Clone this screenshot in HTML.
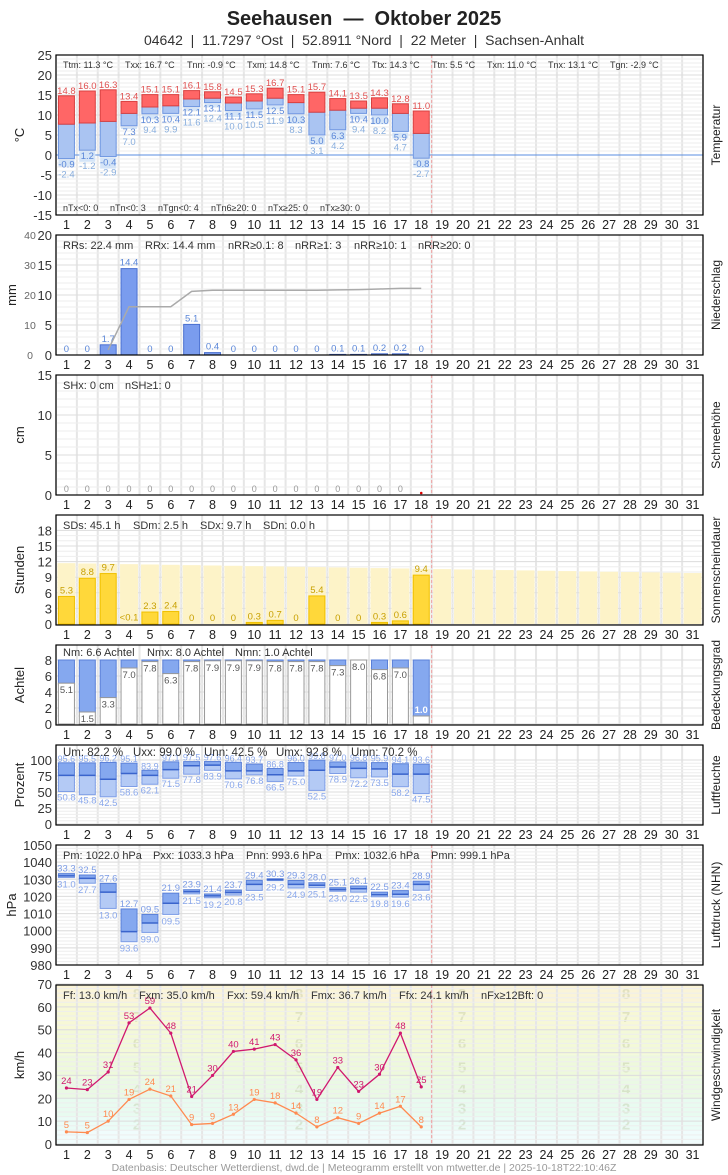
<!DOCTYPE html>
<html><head><meta charset="utf-8">
<style>
body{margin:0;background:#fff;width:728px;height:1175px;overflow:hidden}
svg{display:block;font-family:"Liberation Sans",sans-serif}
text{white-space:pre}
</style></head><body>
<svg id="s" width="728" height="1175" xmlns="http://www.w3.org/2000/svg"></svg>
<script>
const S=document.getElementById('s');let h='';
const L=56,R=703,W=(R-L)/31;
const X=i=>L+(i-0.5)*W;
function t(x,y,s,o){o=o||{};h+=`<text x="${x}" y="${y}" font-size="${o.fs||12}" fill="${o.c||'#222'}" text-anchor="${o.a||'start'}" ${o.fw?'font-weight="bold"':''} ${o.r?`transform="rotate(-90 ${x} ${y})"`:''}>${s}</text>`;}
function r(x,y,w,hh,f,st){if(hh<0){y+=hh;hh=-hh;}h+=`<rect x="${x}" y="${y}" width="${w}" height="${hh}" fill="${f}" ${st?`stroke="${st}" stroke-width="1"`:''}/>`;}
function ln(x1,y1,x2,y2,c,w,d){h+=`<line x1="${x1}" y1="${y1}" x2="${x2}" y2="${y2}" stroke="${c}" stroke-width="${w||1}" ${d?`stroke-dasharray="${d}"`:''}/>`;}
const N='\u00a0';
t(364,25,'Seehausen'+N+N+'—'+N+N+'Oktober 2025',{fs:20,fw:1,a:'middle'});
t(364,45,['04642','11.7297 °Ost','52.8911 °Nord','22 Meter','Sachsen-Anhalt'].join(N+N+'|'+N+N),{fs:14,a:'middle',c:'#333'});
function panel(top,bot,ticks,yf,ytitle,rtitle,bg){
  if(bg)bg();
  for(let i=0;i<=31;i++)ln(L+i*W,top,L+i*W,bot,'#e6e6e6',2);
  for(let v=ticks.min;v<=ticks.max;v+=ticks.minor)ln(L,yf(v),R,yf(v),'#eeeeee',1);
  for(let v=ticks.min;v<=ticks.max;v+=ticks.step){ln(L,yf(v),R,yf(v),'#dddddd',1);t(52,yf(v)+5,v,{fs:13,a:'end',c:'#333'});}
  for(let i=1;i<=31;i++)t(X(i),bot+14,i,{fs:12.5,a:'middle',c:'#222'});
  t(ytitle[1],(top+bot)/2,ytitle[0],{fs:13,a:'middle',r:1,c:'#222'});
  t(720,(top+bot)/2,rtitle,{fs:12,a:'middle',r:1,c:'#222'});
}
function frame(top,bot){ln(L+18*W,top,L+18*W,bot,'#f0a0a0',1,'3,2');h+=`<rect x="${L}" y="${top}" width="${R-L}" height="${bot-top}" fill="none" stroke="#000" stroke-width="1.2"/>`;}
function stats(y,arr,fs){arr.forEach(a=>t(a[0],y,a[1],{fs:fs||11,c:'#333'}));}
// TEMPERATURE
{const yf=v=>55+(25-v)*4;
panel(55,215,{min:-15,max:25,step:5,minor:1},yf,['°C',24],'Temperatur');
ln(L,yf(0),R,yf(0),'#5a8ee0',1);
const mx=[14.8,16.0,16.3,13.4,15.1,15.1,16.1,15.8,14.5,15.3,16.7,15.1,15.7,14.1,13.5,14.3,12.8,11.0];
const me=[7.7,8.0,8.4,10.4,12.0,12.3,14.0,14.2,13.0,13.5,14.2,13.1,10.7,11.2,11.7,11.7,10.4,5.4];
const mn=[-0.9,1.2,-0.4,7.3,10.3,10.4,12.1,13.1,11.1,11.5,12.5,10.3,5.0,6.3,10.4,10.0,5.9,-0.8];
const gn=[-2.4,-1.2,-2.9,7.0,9.4,9.9,11.6,12.4,10.0,10.5,11.9,8.3,3.1,4.2,9.4,8.2,4.7,-2.7];
for(let i=0;i<18;i++){const x=X(i+1)-8;
 r(x,yf(mn[i])+1,16,yf(gn[i])-yf(mn[i])+1,'#d4e4f7');
 r(x,yf(me[i]),16,yf(mn[i])-yf(me[i]),'#aac4f2','#6d95e0');
 r(x,yf(mx[i]),16,yf(me[i])-yf(mx[i]),'#ff6666','#d84040');
 t(X(i+1),yf(mx[i])-2,mx[i].toFixed(1),{fs:9.5,a:'middle',c:'#e05050'});
 t(X(i+1),yf(mn[i])+9,mn[i].toFixed(1),{fs:9.5,a:'middle',c:'#5a86d8'});
 t(X(i+1),yf(mn[i])+19,gn[i].toFixed(1),{fs:9.5,a:'middle',c:'#88aede'});}
frame(55,215);
stats(68,[[63,'Ttm: 11.3 °C'],[125,'Txx: 16.7 °C'],[187,'Tnn: -0.9 °C'],[247,'Txm: 14.8 °C'],[312,'Tnm: 7.6 °C'],[372,'Ttx: 14.3 °C'],[432,'Ttn: 5.5 °C'],[487,'Txn: 11.0 °C'],[548,'Tnx: 13.1 °C'],[610,'Tgn: -2.9 °C']],9);
stats(211,[[63,'nTx<0: 0'],[110,'nTn<0: 3'],[158,'nTgn<0: 4'],[211,'nTn6≥20: 0'],[268,'nTx≥25: 0'],[320,'nTx≥30: 0']],9);}
// PRECIP
{const yf=v=>355-v*6;
panel(235,355,{min:0,max:20,step:5,minor:1},yf,['mm',16],'Niederschlag');
[0,10,20,30,40].forEach((v,k)=>t(30,355-k*30+4,v,{fs:10.5,a:'middle',c:'#666'}));
const p=[0,0,1.7,14.4,0,0,5.1,0.4,0,0,0,0,0,0.1,0.1,0.2,0.2,0];
let c=0,pts=[];
for(let i=0;i<18;i++){const x=X(i+1);c+=p[i];
 if(p[i]>0)r(x-8,yf(p[i]),16,p[i]*6,'#7a9cee','#4a70d0');
 t(x,yf(p[i])-3,p[i],{fs:9.5,a:'middle',c:'#5a86d8'});
 if(i>=2)pts.push(x+','+(355-c*3));}
h+=`<polyline points="${pts.join(' ')}" fill="none" stroke="#aaa" stroke-width="1.5"/>`;
frame(235,355);
stats(249,[[63,'RRs: 22.4 mm'],[145,'RRx: 14.4 mm'],[228,'nRR≥0.1: 8'],[295,'nRR≥1: 3'],[354,'nRR≥10: 1'],[418,'nRR≥20: 0']]);}
// SNOW
{const yf=v=>495-v*8;
panel(375,495,{min:0,max:15,step:5,minor:1},yf,['cm',24],'Schneehöhe');
for(let i=1;i<=17;i++)t(X(i),492,0,{fs:9,a:'middle',c:'#999'});
h+=`<circle cx="${X(18)}" cy="493" r="1.3" fill="#d00"/>`;
frame(375,495);
stats(389,[[63,'SHx: 0 cm'],[125,'nSH≥1: 0']]);}
// SUN
{const yf=v=>624-v*5.2;
panel(515,625,{min:0,max:18,step:3,minor:1},yf,['Stunden',24],'Sonnenscheindauer');
for(let i=1;i<=31;i++){const m=11.7-(i-1)*1.9/30;r(X(i)-9,yf(m),18,m*5.2,'#fdf3c8');}
const s=[5.3,8.8,9.7,0.05,2.3,2.4,0,0,0,0.3,0.7,0,5.4,0,0,0.3,0.6,9.4],sl=['5.3','8.8','9.7','<0.1','2.3','2.4','0','0','0','0.3','0.7','0','5.4','0','0','0.3','0.6','9.4'];
for(let i=0;i<18;i++){const x=X(i+1);if(s[i]>0.1)r(x-8,yf(s[i]),16,s[i]*5.2,'#ffd83a','#f0c000');
 t(x,yf(s[i])-3,sl[i],{fs:9.5,a:'middle',c:'#c8a000'});}
frame(515,625);
stats(529,[[63,'SDs: 45.1 h'],[133,'SDm: 2.5 h'],[200,'SDx: 9.7 h'],[263,'SDn: 0.0 h']]);}
// CLOUD
{const yf=v=>724-v*8;
panel(645,725,{min:0,max:8,step:2,minor:1},yf,['Achtel',24],'Bedeckungsgrad');
const n=[5.1,1.5,3.3,7.0,7.8,6.3,7.8,7.9,7.9,7.9,7.8,7.8,7.8,7.3,8.0,6.8,7.0,1.0];
for(let i=0;i<18;i++){const x=X(i+1)-8;
 r(x,yf(8),16,(8-n[i])*8,'#85a8ef','#5a80d8');
 r(x,yf(n[i]),16,n[i]*8,'#fff','#999');
 if(i==17)t(X(i+1),yf(n[i])-3,'1.0',{fs:9.5,a:'middle',c:'#fff',fw:1});
 else t(X(i+1),yf(n[i])+10,n[i].toFixed(1),{fs:9.5,a:'middle',c:'#555'});}
frame(645,725);
stats(656,[[63,'Nm: 6.6 Achtel'],[147,'Nmx: 8.0 Achtel'],[235,'Nmn: 1.0 Achtel']]);}
// HUMIDITY
{const yf=v=>824-v*0.64;
panel(745,825,{min:0,max:100,step:25,minor:5},yf,['Prozent',24],'Luftfeuchte');
const mx=[95.6,95.5,96.2,95.1,83.9,97.1,97.5,97.6,96.4,93.7,86.8,96.0,99.8,97.0,96.8,95.9,94.1,93.6];
const me=[76,76,70,79,76,85,91,92,83,83,77,83,84,89,87,86,78,78];
const mn=[50.8,45.8,42.5,58.6,62.1,71.5,77.8,83.9,70.6,76.8,66.5,75.0,52.5,78.9,72.2,73.5,58.2,47.5];
for(let i=0;i<18;i++){const x=X(i+1)-8;
 r(x,yf(me[i]),16,(me[i]-mn[i])*0.64,'#b4caf5','#7d9de6');
 r(x,yf(mx[i]),16,(mx[i]-me[i])*0.64,'#85a8ef','#5a80d8');
 ln(x,yf(me[i]),x+16,yf(me[i]),'#3a64cc',1.5);
 t(X(i+1),yf(mx[i])-1,mx[i].toFixed(1),{fs:9,a:'middle',c:'#8aa8ec'});
 t(X(i+1),yf(mn[i])+9,mn[i].toFixed(1),{fs:9.5,a:'middle',c:'#8aa8ec'});}
frame(745,825);
stats(756,[[63,'Um: 82.2 %'],[133,'Uxx: 99.0 %'],[204,'Unn: 42.5 %'],[276,'Umx: 92.8 %'],[351,'Umn: 70.2 %']],11.5);}
// PRESSURE
{const yf=v=>845+(1050-v)*120/70;
panel(845,965,{min:980,max:1050,step:10,minor:2},yf,['hPa',16],'Luftdruck (NHN)');
const mx=[1033.3,1032.5,1027.6,1012.7,1009.5,1021.9,1023.9,1021.4,1023.7,1029.4,1030.3,1029.3,1028.0,1025.1,1026.1,1022.5,1023.4,1028.9];
const mn=[1031.0,1027.7,1013.0,993.6,999.0,1009.5,1021.5,1019.2,1020.8,1023.5,1029.2,1024.9,1025.1,1023.0,1022.5,1019.8,1019.6,1023.6];
const me=[1032,1030.5,1022.5,999.5,1004.5,1016,1022.7,1020.3,1022.3,1027,1029.8,1027,1026.5,1024,1024.5,1021,1021.3,1027];
const f=v=>{let s=v.toFixed(1);return s.slice(-4)};
for(let i=0;i<18;i++){const x=X(i+1)-8;
 r(x,yf(me[i]),16,yf(mn[i])-yf(me[i]),'#b4caf5','#7d9de6');
 r(x,yf(mx[i]),16,yf(me[i])-yf(mx[i]),'#85a8ef','#5a80d8');
 ln(x,yf(me[i]),x+16,yf(me[i]),'#3a64cc',1.5);
 t(X(i+1),yf(mx[i])-2,f(mx[i]),{fs:9.5,a:'middle',c:'#7c9ce6'});
 t(X(i+1),yf(mn[i])+10,f(mn[i]),{fs:9.5,a:'middle',c:'#8aa8ec'});}
frame(845,965);
stats(859,[[63,'Pm: 1022.0 hPa'],[153,'Pxx: 1033.3 hPa'],[246,'Pnn: 993.6 hPa'],[335,'Pmx: 1032.6 hPa'],[431,'Pmn: 999.1 hPa']]);}
// WIND
{const yf=v=>1144-v*160/70;
panel(985,1145,{min:0,max:70,step:10,minor:2},yf,['km/h',24],'Windgeschwindigkeit',()=>{
 const b=[[0,6,'#f0fcfc'],[6,12,'#eafcf6'],[12,20,'#e8fbf0'],[20,29,'#eaf9e4'],[29,39,'#eef9dc'],[39,50,'#f3f9d8'],[50,62,'#f7f8d6'],[62,70,'#faf4d8']];
 b.forEach(q=>r(L,yf(q[1]),R-L,(q[1]-q[0])*160/70,q[2]));
 const nb=[[2,9],[3,16],[4,24.5],[5,34],[6,44.5],[7,56],[8,66]];
 [137,299,462,626].forEach(x=>nb.forEach(q=>t(x,yf(q[1])+6,q[0],{fs:15,a:'middle',c:'rgba(180,190,150,0.35)',fw:1})));});
const g=[24.5,23.8,31.5,53,59.5,48.5,20.8,30,40.5,41.5,43.5,36.8,19.5,33.5,23,30.5,48.5,25];
const m=[5.3,5,10,19.5,24,21,8.5,9,13,19.5,18,13.5,7.5,11.5,9,13.5,16.5,7.5];
const gl=[24,23,31,53,59,48,21,30,40,41,43,36,19,33,23,30,48,25],ml=[5,5,10,19,24,21,9,9,13,19,18,14,8,12,9,14,17,8];
h+=`<polyline points="${g.map((v,i)=>X(i+1)+','+yf(v)).join(' ')}" fill="none" stroke="#d0186e" stroke-width="1.3"/>`;
h+=`<polyline points="${m.map((v,i)=>X(i+1)+','+yf(v)).join(' ')}" fill="none" stroke="#ff8a50" stroke-width="1.3"/>`;
for(let i=0;i<18;i++){h+=`<circle cx="${X(i+1)}" cy="${yf(g[i])}" r="1.6" fill="#d0186e"/><circle cx="${X(i+1)}" cy="${yf(m[i])}" r="1.6" fill="#ff8a50"/>`;
 t(X(i+1),yf(g[i])-4,gl[i],{fs:9.5,a:'middle',c:'#d0186e'});t(X(i+1),yf(m[i])-4,ml[i],{fs:9.5,a:'middle',c:'#ff8a50'});}
frame(985,1145);
stats(999,[[63,'Ff: 13.0 km/h'],[139,'Fxm: 35.0 km/h'],[227,'Fxx: 59.4 km/h'],[311,'Fmx: 36.7 km/h'],[399,'Ffx: 24.1 km/h'],[481,'nFx≥12Bft: 0']]);}
t(364,1171,'Datenbasis: Deutscher Wetterdienst, dwd.de | Meteogramm erstellt von mtwetter.de | 2025-10-18T22:10:46Z',{fs:10.5,a:'middle',c:'#999'});
S.innerHTML=h;
</script>
</body></html>
